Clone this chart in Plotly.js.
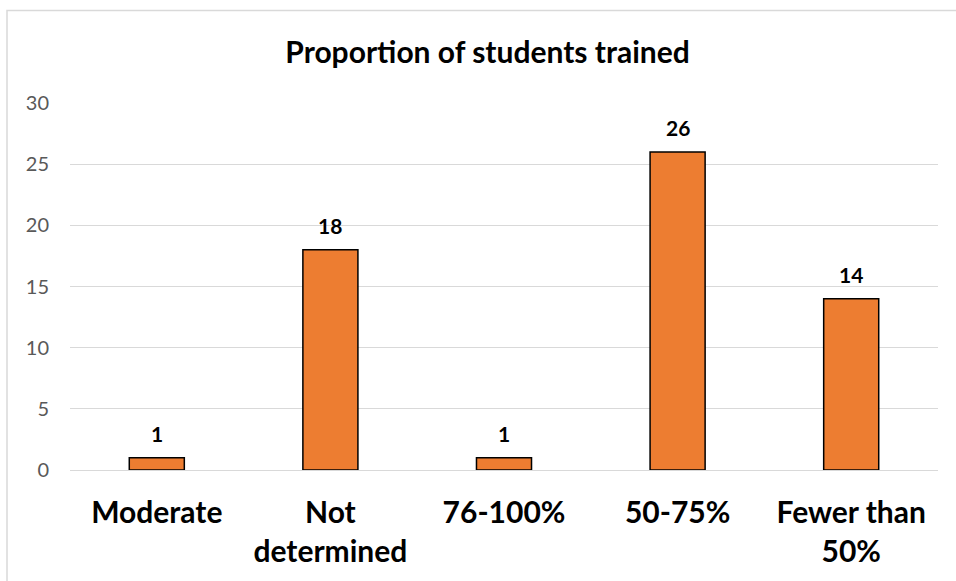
<!DOCTYPE html>
<html>
<head>
<meta charset="utf-8">
<script src="https://cdn.plot.ly/plotly-3.0.1.min.js"></script>
<style>html,body{margin:0;padding:0;background:#fff;}#chart{width:956px;height:581px;}</style>
</head>
<body>
<div id="chart"></div>
<script>
const categories = ["Moderate", "Not<br>determined", "76-100%", "50-75%", "Fewer than<br>50%"];
const values = [1, 18, 1, 26, 14];
const yTicks = [0, 5, 10, 15, 20, 25, 30];

const trace = {
  type: 'bar',
  x: categories,
  y: values,
  width: 0.317,
  marker: {color: '#ED7D31', line: {color: '#000000', width: 1.5}},
  hoverinfo: 'skip'
};

const annotations = categories.map((c, i) => ({
  x: c, y: values[i], xref: 'x', yref: 'y',
  text: '<b>' + values[i] + '</b>', showarrow: false,
  yanchor: 'bottom', yshift: 10,
  font: {family: 'Lato, sans-serif', size: 21, color: '#000000'}
}));

const layout = {
  width: 956, height: 581,
  margin: {l: 70, r: 18, t: 103, b: 111},
  paper_bgcolor: '#ffffff', plot_bgcolor: '#ffffff',
  showlegend: false,
  title: {
    text: '<b>Proportion of students trained</b>',
    x: 0.51, xref: 'container', xanchor: 'center',
    y: 0.91, yref: 'container', yanchor: 'middle',
    font: {family: 'Lato, sans-serif', size: 30, color: '#000000'}
  },
  xaxis: {
    type: 'category',
    tickfont: {family: 'Lato, sans-serif', size: 30, color: '#000000', weight: 'bold'},
    showgrid: false, showline: false, ticks: '', zeroline: false,
    ticklabelstandoff: 22
  },
  yaxis: {
    range: [0, 30], tickvals: yTicks, ticktext: yTicks.map(String),
    tickfont: {family: 'Lato, sans-serif', size: 20, color: '#595959'},
    showgrid: true, gridcolor: '#d9d9d9', gridwidth: 1,
    zeroline: true, zerolinecolor: '#d9d9d9', zerolinewidth: 1,
    showline: false, ticks: '', ticklabelstandoff: 20
  },
  annotations: annotations,
  shapes: [{
    type: 'rect', xref: 'paper', yref: 'paper',
    x0: -63 / 868, x1: 1.2, y0: -1, y1: 1 + 92.5 / 367,
    line: {color: '#d9d9d9', width: 1.5}, fillcolor: 'rgba(0,0,0,0)', layer: 'below'
  }]
};

Plotly.newPlot('chart', [trace], layout, {displayModeBar: false, staticPlot: true});
</script>
</body>
</html>
